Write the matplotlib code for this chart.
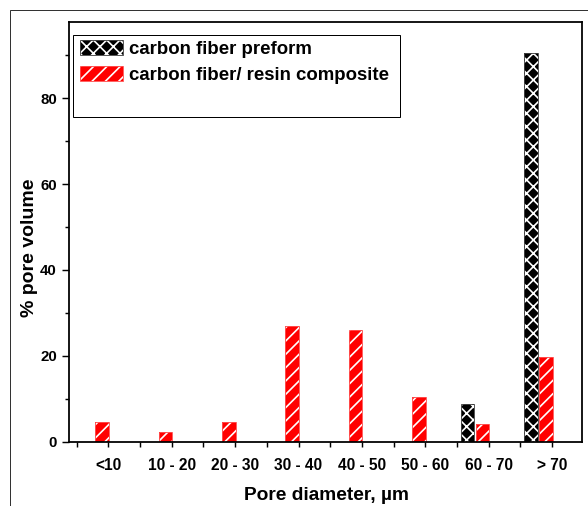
import matplotlib
matplotlib.use("Agg")
import matplotlib.pyplot as plt
from matplotlib.patches import Patch, Rectangle
from matplotlib.legend_handler import HandlerTuple
import numpy as np

# data
categories = ["<10", "10 - 20", "20 - 30", "30 - 40", "40 - 50", "50 - 60", "60 - 70", "> 70"]
preform = [0, 0, 0, 0, 0, 0, 8.8, 90.6]
composite = [4.5, 2.1, 4.5, 26.9, 25.9, 10.4, 4.1, 19.6]
y_ticks = [0, 20, 40, 60, 80]

DPI = 80
W, H = 588, 506

plt.rcParams['font.family'] = ['Liberation Sans', 'DejaVu Sans']
plt.rcParams['font.weight'] = 'bold'
plt.rcParams['hatch.linewidth'] = 1.5

fig = plt.figure(figsize=(W / DPI, H / DPI), dpi=DPI)
ax = fig.add_axes([69 / W, 1 - 441.5 / H, (582 - 69) / W, (441.5 - 22) / H])

x = np.arange(len(categories))
bw = 0.215

# black bars, white crosses
ax.bar(x - 0.335, preform, bw, color='black', edgecolor='white', hatch='xx', linewidth=0)
ax.bar(x - 0.335, preform, bw, fill=False, edgecolor='#444444', linewidth=0.8)
# red bars, white stripes
ax.bar(x - 0.1, composite, bw, color='#ff0000', edgecolor='white', hatch='//', linewidth=0)
ax.bar(x - 0.1, composite, bw, fill=False, edgecolor='#ff5050', linewidth=0.8)

ax.set_xlim(-0.62, 7.47)
ax.set_ylim(0, 97.8)
ax.set_xticks(x)
ax.set_xticklabels(categories)
ax.set_xticks(np.arange(-0.5, 7, 1), minor=True)
ax.set_yticks(y_ticks)
ax.set_yticks(np.arange(10, 91, 20), minor=True)

ax.tick_params(axis='x', which='both', direction='out', length=4.5, width=1.3, pad=10.5, labelsize=14)
ax.tick_params(axis='y', which='major', direction='out', length=6, width=1.3, pad=5, labelsize=13.5)
ax.tick_params(axis='y', which='minor', direction='out', length=3.6, width=1.3)
for lab in ax.get_xticklabels() + ax.get_yticklabels():
    lab.set_fontweight('bold')

for s in ax.spines.values():
    s.set_linewidth(1.6)

fig.text(327 / W, 1 - 496 / H, "Pore diameter, µm", ha='center', va='center',
         fontsize=17.2, fontweight='bold')
fig.text(29 / W, 1 - 248 / H, "% pore volume", ha='center', va='center',
         rotation=90, fontsize=17.5, fontweight='bold')

# legend
h1 = (Patch(facecolor='black', edgecolor='white', hatch='xx', linewidth=0),
      Patch(fill=False, edgecolor='#444444', linewidth=0.8))
h2 = (Patch(facecolor='#ff0000', edgecolor='white', hatch='//', linewidth=0),
      Patch(fill=False, edgecolor='#ff5050', linewidth=0.8))
leg = ax.legend([h1, h2], ["carbon fiber preform", "carbon fiber/ resin composite"],
                handler_map={tuple: HandlerTuple(ndivide=1, pad=0)},
                loc='upper left', bbox_to_anchor=(80 / W, 1 - 40 / H),
                bbox_transform=fig.transFigure, frameon=False,
                prop={'size': 16.8, 'weight': 'bold'},
                handlelength=2.3, handleheight=0.86, handletextpad=0.3,
                labelspacing=0.45, borderpad=0, borderaxespad=0)
ax.add_patch(Rectangle((73 / W, 1 - 117 / H), (400 - 73) / W, (117 - 35) / H,
                       transform=fig.transFigure, fill=False, edgecolor='black',
                       linewidth=0.9, clip_on=False, zorder=5))

# outer frame of the picture
fig.add_artist(Rectangle((10 / W, -0.2), 1.5, 1 - 10 / H + 0.2, transform=fig.transFigure,
                         fill=False, edgecolor='#333333', linewidth=0.9, clip_on=False))

fig.savefig("out.png", dpi=DPI, facecolor='white')
